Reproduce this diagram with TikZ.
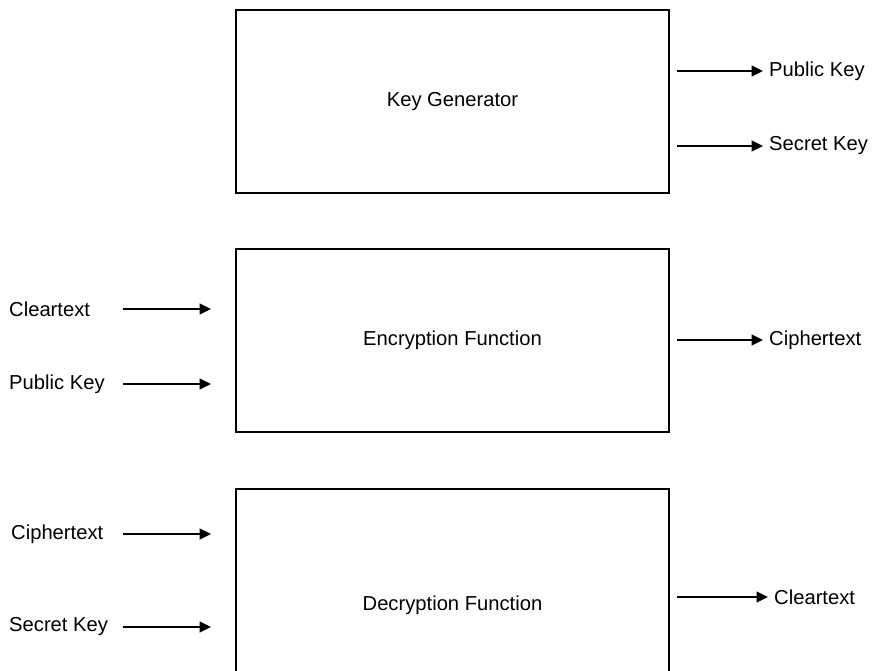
\documentclass[tikz,border=0pt]{standalone}
\usepackage{fontspec}
\setmainfont{Liberation Sans}
\usetikzlibrary{arrows.meta}
\begin{document}
\begin{tikzpicture}[x=0.02cm,y=-0.02cm,
    every node/.style={font=\fontsize{11.5pt}{13pt}\selectfont},
    funcbox/.style={draw, line width=1pt, minimum width=8.66cm, minimum height=3.66cm},
    flow/.style={-{Triangle[length=6.5pt,width=6pt]}, line width=1.35pt}]
    \useasboundingbox (0,0) rectangle (872,670);
    % the three boxes
    \node[funcbox] (keygen) at (452.5,101.5) {Key Generator};
    \node[funcbox] (enc) at (452.5,340.5) {Encryption Function};
    \node[funcbox, minimum height=4.64cm] (dec) at (452.5,605) {Decryption Function};
    % key generator outputs
    \coordinate (kgpubstart) at (677,71);
    \coordinate (kgsecstart) at (677,146);
    \node[anchor=west] (kgpub) at (763,71) {Public Key};
    \node[anchor=west] (kgsec) at (763,146) {Secret Key};
    \draw[flow] (kgpubstart) -- (kgpub.west);
    \draw[flow] (kgsecstart) -- (kgsec.west);
    % encryption
    \node[anchor=west] (encclear) at (3,309) {Cleartext};
    \node[anchor=west] (encpub) at (3,384) {Public Key};
    \coordinate (encclearstart) at (123,309);
    \coordinate (encclearend) at (211,309);
    \coordinate (encpubstart) at (123,384);
    \coordinate (encpubend) at (211,384);
    \draw[flow] (encclearstart) -- (encclearend);
    \draw[flow] (encpubstart) -- (encpubend);
    \coordinate (enccipherstart) at (677,340);
    \node[anchor=west] (enccipher) at (763,340) {Ciphertext};
    \draw[flow] (enccipherstart) -- (enccipher.west);
    % decryption
    \node[anchor=west] (deccipher) at (5,534) {Ciphertext};
    \node[anchor=west] (decsec) at (3,627) {Secret Key};
    \coordinate (deccipherstart) at (123,534);
    \coordinate (deccipherend) at (211,534);
    \coordinate (decsecstart) at (123,627);
    \coordinate (decsecend) at (211,627);
    \draw[flow] (deccipherstart) -- (deccipherend);
    \draw[flow] (decsecstart) -- (decsecend);
    \coordinate (decclearstart) at (677,597);
    \node[anchor=west] (decclear) at (768,597) {Cleartext};
    \draw[flow] (decclearstart) -- (decclear.west);
\end{tikzpicture}
\end{document}
